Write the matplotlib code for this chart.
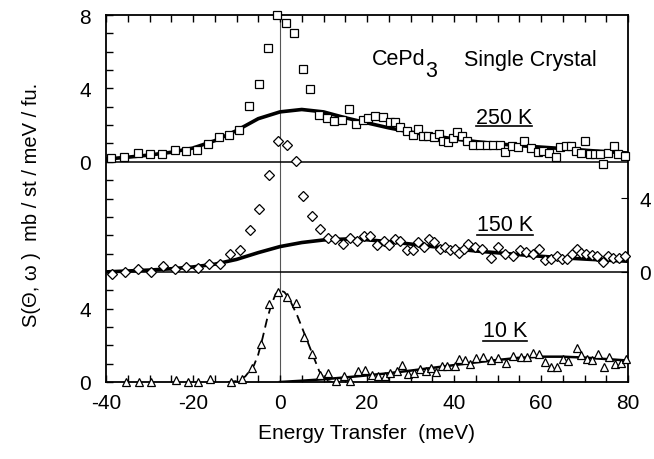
import matplotlib
matplotlib.use("Agg")
import matplotlib.pyplot as plt
import numpy as np

plt.rcParams['font.family'] = ['Liberation Sans', 'DejaVu Sans']
plt.rcParams['axes.unicode_minus'] = False

# ---------------- data ----------------
# offsets of the three stacked spectra on the common y axis
offset_250, offset_150, offset_10 = 12, 6, 0

# 250 K (squares)
x250 = [-38.9, -35.8, -32.7, -29.9, -27.1, -24.2, -21.5, -19.0, -16.5, -14.0, -11.7, -9.4,
        -7.1, -4.9, -2.8, -0.8, 1.3, 3.2, 5.2, 7.0, 8.9, 10.7, 12.5, 14.3, 15.9, 17.5,
        19.1, 20.3, 21.8, 23.6, 25.3, 26.4, 27.7, 29.1, 30.5, 31.8, 32.9, 34.1, 35.4, 36.6,
        37.5, 38.7, 39.8, 40.8, 41.8, 43.1, 44.4, 46.0, 47.5, 49.0, 50.6, 51.7, 53.3, 54.8,
        56.1, 57.6, 59.2, 60.5, 61.9, 63.4, 64.4, 65.7, 66.9, 68.0, 69.1, 70.1, 71.3, 72.4,
        73.6, 74.3, 75.5, 76.8, 77.8, 79.3]
y250 = [0.2, 0.27, 0.47, 0.4, 0.42, 0.65, 0.58, 0.67, 0.95, 1.33, 1.45, 1.73,
        3.05, 4.23, 6.18, 8.0, 7.56, 7.01, 5.03, 3.96, 2.53, 2.36, 2.22, 2.29, 2.87, 2.05,
        2.29, 2.36, 2.51, 2.42, 2.15, 2.15, 1.87, 1.69, 1.45, 1.78, 1.42, 1.42, 1.33, 1.51,
        1.14, 1.06, 1.28, 1.6, 1.42, 1.14, 0.93, 0.93, 0.93, 0.93, 0.93, 0.55, 0.87, 0.78,
        1.14, 0.73, 0.55, 0.6, 0.47, 0.24, 0.78, 0.87, 0.87, 0.6, 0.47, 1.14, 0.42, 0.42,
        0.42, -0.13, 0.47, 0.87, 0.42, 0.33]
fit250_x = [-40, -35, -30, -25, -20, -15, -10, -5, 0, 5, 10, 15, 20, 25, 30, 35, 40,
            45, 50, 55, 60, 65, 70, 75, 80]
fit250_y = [0.15, 0.25, 0.37, 0.52, 0.75, 1.15, 1.7, 2.35, 2.72, 2.85, 2.72, 2.4, 2.12,
            1.85, 1.62, 1.42, 1.25, 1.1, 0.98, 0.88, 0.8, 0.72, 0.63, 0.55, 0.48]

# 150 K (diamonds)
x150 = [-38.7, -35.6, -32.6, -29.7, -26.8, -24.1, -21.5, -18.9, -16.3, -13.8, -11.5, -9.2,
        -6.9, -4.8, -2.5, -0.5, 1.5, 3.6, 5.2, 7.3, 9.2, 11.0, 12.6, 14.4, 16.1, 17.6,
        19.3, 20.7, 22.2, 23.8, 25.1, 26.4, 27.7, 29.1, 30.5, 31.8, 33.1, 34.3, 35.4,
        36.8, 37.9, 39.1, 40.2, 41.2, 42.3, 43.3, 44.8, 46.4, 48.4, 50.0, 51.7, 53.5,
        55.2, 56.6, 58.2, 59.6, 60.9, 62.2, 63.6, 64.9, 66.0, 67.1, 68.2, 69.2, 70.3,
        71.7, 72.9, 74.3, 75.5, 76.6, 78.0, 79.3]
y150 = [-0.13, -0.03, 0.18, -0.03, 0.33, 0.18, 0.29, 0.2, 0.42, 0.42, 0.96, 1.2,
        2.29, 3.42, 5.27, 7.14, 6.92, 6.02, 4.14, 3.05, 2.33, 1.87, 1.82, 1.51, 1.87, 1.69,
        1.96, 1.93, 1.46, 1.69, 1.46, 1.82, 1.69, 1.2, 1.2, 1.64, 1.33, 1.78, 1.64,
        1.27, 1.38, 1.2, 1.27, 1.02, 1.27, 1.51, 1.33, 1.27, 0.78, 1.33, 0.96, 0.87,
        1.2, 1.06, 0.96, 1.27, 0.65, 0.73, 0.84, 0.69, 0.73, 0.96, 1.24, 1.02, 0.96,
        0.91, 0.87, 0.55, 0.84, 0.78, 0.78, 0.84]
fit150_x = [-40, -35, -30, -25, -20, -15, -10, -5, 0, 5, 10, 15, 20, 25, 30, 35, 40,
            45, 50, 55, 60, 65, 70, 75, 80]
fit150_y = [0.0, 0.05, 0.1, 0.17, 0.27, 0.42, 0.68, 1.05, 1.38, 1.6, 1.74, 1.79, 1.75,
            1.65, 1.52, 1.38, 1.26, 1.14, 1.04, 0.94, 0.85, 0.77, 0.7, 0.64, 0.58]

# 10 K (triangles)
x10 = [-35.4, -32.3, -29.7, -23.9, -21.2, -18.8, -16.1, -11.3, -8.8, -6.5, -4.4, -2.5,
       -0.4, 1.7, 3.7, 5.6, 7.4, 9.2, 11.1, 12.9, 14.6, 16.2, 18.0, 19.5, 21.1, 22.6,
       24.1, 25.4, 26.8, 28.0, 29.5, 30.8, 32.2, 33.6, 34.6, 35.9, 37.2, 38.5, 40.2,
       41.2, 42.5, 43.7, 45.0, 46.6, 48.4, 50.2, 52.0, 53.6, 55.3, 56.7, 58.2, 59.6,
       60.9, 62.2, 63.6, 65.0, 66.3, 68.2, 69.3, 70.5, 71.7, 73.2, 74.5, 75.7, 77.0,
       78.3, 79.5]
y10 = [0.0, 0.0, 0.0, 0.1, 0.0, 0.0, 0.15, 0.0, 0.18, 0.76, 2.05, 4.23,
       4.9, 4.65, 4.33, 2.45, 1.51, 0.37, 0.47, 0.05, 0.33, 0.05, 0.6, 0.65, 0.37, 0.33,
       0.33, 0.47, 0.6, 0.91, 0.42, 0.51, 0.69, 0.6, 0.78, 0.55, 0.87, 0.87, 0.87,
       1.24, 1.2, 0.96, 1.33, 1.38, 1.2, 1.33, 1.06, 1.42, 1.38, 1.38, 1.6, 1.51,
       1.09, 0.84, 0.84, 1.28, 1.15, 1.87, 1.45, 1.28, 1.2, 1.51, 0.84, 1.38, 0.96,
       1.06, 1.24]
fit10_x = [0, 5, 10, 15, 20, 25, 30, 35, 40, 45, 50, 55, 60, 65, 70, 75, 80]
fit10_y = [0.0, 0.07, 0.15, 0.25, 0.36, 0.48, 0.62, 0.77, 0.92, 1.07, 1.2, 1.32, 1.38,
           1.38, 1.33, 1.25, 1.17]
elastic10_x = [-12, -10, -8, -6, -5, -4, -3, -2, -1, 0, 1, 2, 3, 4, 5, 6, 7, 8, 9, 10, 11, 12]
elastic10_y = [0.0, 0.05, 0.3, 0.9, 1.5, 2.4, 3.4, 4.2, 4.8, 5.0, 4.9, 4.6, 4.1, 3.6, 3.0,
               2.4, 1.8, 1.2, 0.6, 0.25, 0.05, 0.0]

err250, err150, err10 = 0.18, 0.25, 0.15

left_ticks = [0, 4, 12, 16, 20]
left_labels = ['0', '4', '0', '4', '8']
right_ticks = [6, 10]
right_labels = ['0', '4']
x_ticks = [-40, -20, 0, 20, 40, 60, 80]

# ---------------- figure ----------------
fig = plt.figure(figsize=(6.54, 4.6), dpi=100)
ax = fig.add_axes([106 / 654, 77 / 460, 522 / 654, 367 / 460])
ax.set_xlim(-40, 80)
ax.set_ylim(0, 20)

for s in ax.spines.values():
    s.set_linewidth(1.3)

# separating baselines and zero line
ax.axhline(offset_150, color='black', lw=1.1, zorder=2)
ax.axhline(offset_250, color='black', lw=1.1, zorder=2)
ax.axvline(0, color='#555555', lw=0.8, zorder=1)

mk = dict(mfc='white', mec='black', mew=0.9, ecolor='black', elinewidth=0.8,
          capsize=0, linestyle='none', clip_on=False, zorder=4)

# 250 K
ax.plot(fit250_x, np.array(fit250_y) + offset_250, color='black', lw=2.6, zorder=3)
ax.errorbar(x250, np.array(y250) + offset_250, yerr=err250, marker='s', ms=5.6, **mk)

# 150 K
ax.plot(fit150_x, np.array(fit150_y) + offset_150, color='black', lw=2.6, zorder=3)
ax.errorbar(x150, np.array(y150) + offset_150, yerr=err150, marker='D', ms=4.6, **mk)

# 10 K
ax.plot(fit10_x, np.array(fit10_y) + offset_10, color='black', lw=1.8, zorder=3)
ax.plot(elastic10_x, np.array(elastic10_y) + offset_10, color='black', lw=1.3,
        dashes=(5, 3), zorder=3)
ax.errorbar(x10, np.array(y10) + offset_10, yerr=err10, marker='^', ms=5.8, **mk)

# ticks
ax.set_xticks(x_ticks)
ax.set_xticks(np.arange(-40, 81, 5), minor=True)
ax.set_yticks(left_ticks)
ax.set_yticklabels(left_labels)
ax.set_yticks(np.arange(0, 21, 1), minor=True)
ax.tick_params(axis='both', which='both', direction='in', top=True, right=True,
               width=1.0)
ax.tick_params(axis='both', which='major', length=5, labelsize=15)
ax.tick_params(axis='both', which='minor', length=5)
ax.tick_params(axis='x', which='major', pad=8)
ax.tick_params(axis='y', which='major', pad=11)

ax2 = ax.twinx()
ax2.set_ylim(0, 20)
ax2.set_yticks(right_ticks)
ax2.set_yticklabels(right_labels)
ax2.tick_params(axis='y', which='major', direction='in', length=5, labelsize=15, pad=8)
for s in ax2.spines.values():
    s.set_visible(False)

# labels
ax.set_xlabel('Energy Transfer  (meV)', fontsize=15, labelpad=8)
fig.text(32 / 654, 1 - 205 / 460, 'S(\u0398, \u03c9 )  mb / st / meV / fu.',
         rotation=90, fontsize=14.5, ha='center', va='center')

# annotations
ax.text(21.1, 17.63, 'CePd', fontsize=15.5, ha='left', va='center')
ax.text(34.8, 16.95, '3', fontsize=15.5, ha='center', va='center')
ax.text(57.5, 17.6, 'Single Crystal', fontsize=15.5, ha='center', va='center')

fig.canvas.draw()
renderer = fig.canvas.get_renderer()
inv = ax.transData.inverted()
for label, (tx, ty, uy) in {'250 K': (51.5, 14.44, 13.95),
                            '150 K': (51.7, 8.56, 8.0),
                            '10 K': (51.8, 2.78, 2.25)}.items():
    t = ax.text(tx, ty, label, fontsize=15.5, ha='center', va='center')
    bb = t.get_window_extent(renderer=renderer)
    x0 = inv.transform((bb.x0, bb.y0))[0]
    x1 = inv.transform((bb.x1, bb.y0))[0]
    ax.plot([x0, x1], [uy, uy], color='black', lw=1.2)

fig.savefig('out.png', dpi=100)
